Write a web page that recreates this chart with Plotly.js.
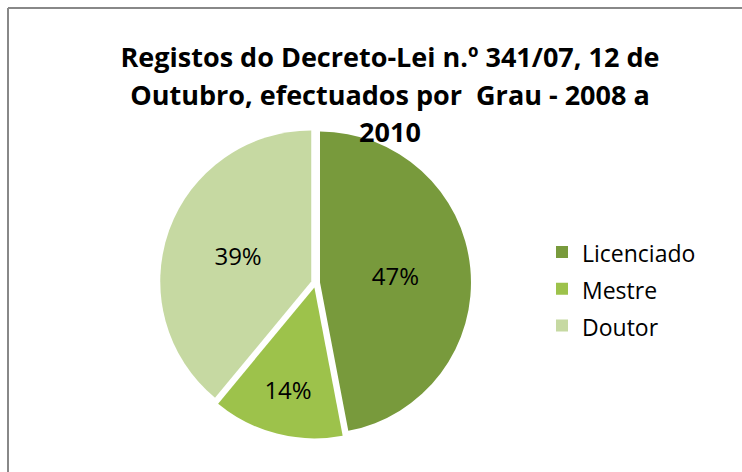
<!DOCTYPE html>
<html>
<head>
<meta charset="utf-8">
<script src="https://cdn.plot.ly/plotly-3.0.1.min.js"></script>
<style>
html,body{margin:0;padding:0;background:#fff;}
#chart{width:742px;height:472px;}
</style>
</head>
<body>
<div id="chart"></div>
<script>
const categories = ["Licenciado", "Mestre", "Doutor"];
const shares = [47, 14, 39];
const sliceColors = ["#789a3c", "#9dc24b", "#c6d9a2"];
const titleLines = [
  "Registos do Decreto-Lei n.º 341/07, 12 de",
  "Outubro, efectuados por  Grau - 2008 a",
  "2010"
];

const W = 742, H = 472;
const legendLabels = categories.map(c => '<span style="font-size:23px">' + c + '</span>');

const trace = {
  type: "pie",
  labels: legendLabels,
  values: shares,
  sort: false,
  direction: "clockwise",
  rotation: 0,
  pull: [0.03, 0.03, 0.03],
  marker: {colors: sliceColors, line: {color: "#ffffff", width: 0}},
  textinfo: "percent",
  texttemplate: "%{percent:.0%}",
  textposition: "inside",
  insidetextorientation: "horizontal",
  textfont: {family: "Open Sans", size: 24, color: "#000000"},
  hoverinfo: "percent",
  domain: {x: [160 / W, 471 / W], y: [33.5 / H, 344.5 / H]}
};

const layout = {
  width: W, height: H,
  margin: {l: 0, r: 0, t: 0, b: 0},
  paper_bgcolor: "#ffffff",
  showlegend: true,
  title: {
    text: titleLines.map(s => '<span style="font-size:27px">' + s + '</span>').join("<br>"),
    font: {family: "Open Sans", size: 29, color: "#000000", weight: "bold"},
    x: 390 / W, xanchor: "center",
    y: 1 - 67 / H, yanchor: "top",
    xref: "paper", yref: "container"
  },
  legend: {
    x: 542 / W, xanchor: "left",
    y: 1 - 289 / H, yanchor: "middle",
    font: {family: "Open Sans", size: 26, color: "#000000"},
    bgcolor: "rgba(0,0,0,0)"
  },
  shapes: [
    {type: "line", xref: "paper", yref: "paper", x0: 8 / W, x1: 1.05, y0: 1 - 8 / H, y1: 1 - 8 / H, line: {color: "#888888", width: 2}},
    {type: "line", xref: "paper", yref: "paper", x0: 8 / W, x1: 8 / W, y0: 1 - 8 / H, y1: -0.05, line: {color: "#888888", width: 2}}
  ]
};

Plotly.newPlot("chart", [trace], layout, {displayModeBar: false, staticPlot: true});
</script>
</body>
</html>
